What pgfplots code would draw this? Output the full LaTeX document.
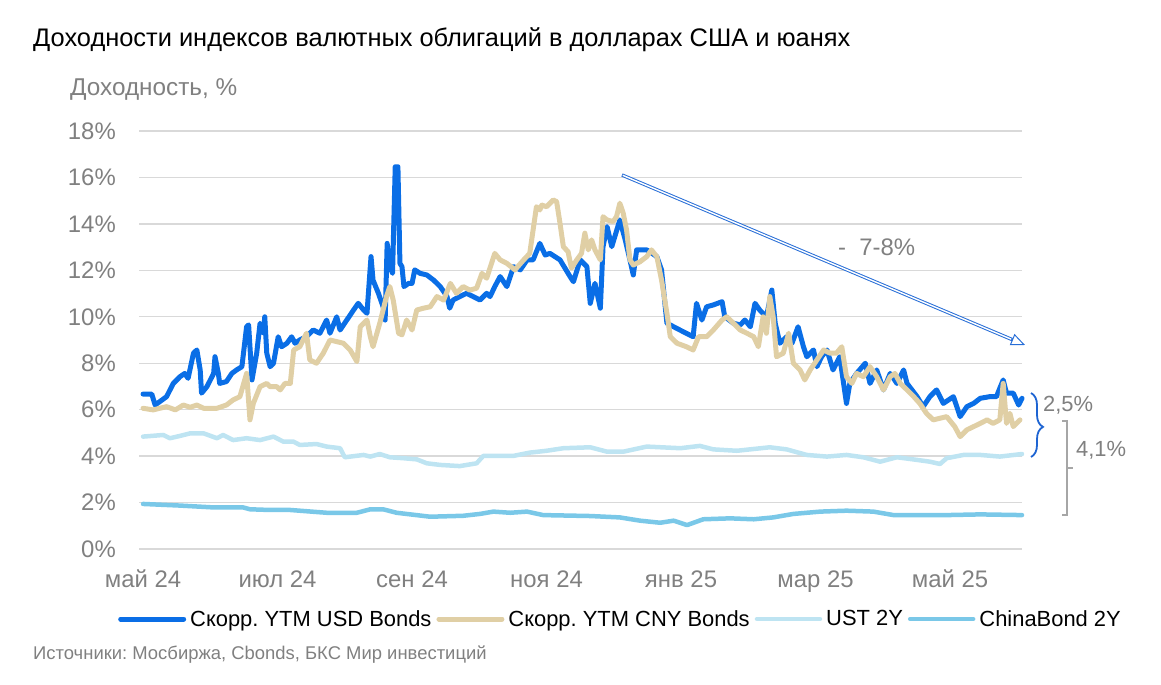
\documentclass[border=0pt]{standalone}
\usepackage{fontspec}
\setmainfont{Liberation Sans}
\usepackage{pgfplots}
\pgfplotsset{compat=1.18}
\usetikzlibrary{arrows.meta,decorations.pathreplacing}

\definecolor{usdblue}{RGB}{10,110,230}
\definecolor{cnytan}{RGB}{224,207,165}
\definecolor{ustblue}{RGB}{190,228,242}
\definecolor{chinablue}{RGB}{122,200,232}
\definecolor{gridgray}{RGB}{217,217,217}
\definecolor{labelgray}{RGB}{128,128,128}
\definecolor{arrowblue}{RGB}{40,110,215}
\definecolor{braceblue}{RGB}{30,100,210}
\definecolor{bracegray}{RGB}{166,166,166}

\newcommand{\fs}[1]{\fontsize{#1}{#1}\selectfont}
\frenchspacing

\begin{document}
\begin{tikzpicture}
\path[use as bounding box] (0,0) rectangle (1161bp,685bp);

\begin{axis}[
    scale only axis, width=883bp, height=418bp,
    at={(139bp,136bp)}, anchor=south west,
    xmin=-0.06, xmax=13.07, ymin=0, ymax=18,
    axis line style={draw=none}, tick style={draw=none},
    ytick={0,2,...,18},
    yticklabels={0\%,2\%,4\%,6\%,8\%,10\%,12\%,14\%,16\%,18\%},
    xtick={0,2,4,6,8,10,12},
    xticklabels={май 24,июл 24,сен 24,ноя 24,янв 25,мар 25,май 25},
    ymajorgrids, grid style={draw=gridgray, line width=1.3bp},
    yticklabel style={font=\fs{24}, text=labelgray, inner sep=0pt, anchor=east, xshift=-23bp},
    xticklabel style={font=\fs{24}, text=labelgray, inner sep=0pt, anchor=base, yshift=-39bp},
    clip=false,
    legend columns=4,
    legend style={at={(-0.0238,-0.1675)}, anchor=west, draw=none, fill=none,
        font=\fs{22}, inner sep=0pt, nodes={inner sep=0pt},
        /tikz/every odd column/.append style={column sep=4bp},
        /tikz/every even column/.append style={column sep=5bp}},
    legend image code/.code={\draw[#1] (0bp,0bp) -- (63bp,0bp);},
    every axis plot/.append style={line join=round, line cap=round},
]

% Скорр. YTM USD Bonds (x: месяцы от мая 2024)
\addplot[usdblue, line width=5bp] coordinates {
(0.00,6.67)(0.13,6.67)(0.18,6.20)(0.35,6.56)(0.45,7.13)(0.55,7.42)(0.62,7.56)(0.67,7.35)(0.75,8.43)(0.80,8.57)
(0.85,7.71)(0.87,6.71)(0.95,6.99)(1.05,7.56)(1.07,8.28)(1.12,7.56)(1.14,7.13)(1.24,7.21)(1.32,7.56)(1.39,7.71)
(1.47,7.85)(1.54,9.57)(1.57,9.65)(1.62,7.28)(1.69,8.43)(1.74,9.72)(1.79,9.29)(1.81,10.00)(1.84,8.43)(1.89,7.85)
(1.94,8.00)(2.01,9.14)(2.06,8.71)(2.14,8.86)(2.21,9.14)(2.26,8.86)(2.33,9.00)(2.43,9.14)(2.53,9.43)(2.63,9.29)
(2.73,9.86)(2.78,9.29)(2.88,10.00)(2.93,9.43)(3.03,9.86)(3.13,10.29)(3.20,10.58)(3.28,10.29)(3.33,10.15)(3.39,12.59)
(3.42,11.58)(3.50,11.01)(3.57,10.43)(3.60,9.86)(3.63,13.16)(3.67,12.16)(3.71,11.87)(3.75,16.46)(3.79,16.46)(3.82,12.30)
(3.85,12.16)(3.88,11.30)(3.95,11.44)(4.00,11.44)(4.04,12.02)(4.12,11.87)(4.22,11.80)(4.32,11.58)(4.42,11.30)(4.52,10.87)
(4.56,10.37)(4.61,10.72)(4.71,10.87)(4.81,11.01)(4.91,10.87)(5.01,10.72)(5.11,11.01)(5.16,10.87)(5.23,11.30)(5.31,11.73)
(5.41,11.30)(5.51,12.16)(5.61,12.02)(5.71,12.45)(5.80,12.45)(5.90,13.16)(5.98,12.66)(6.05,12.73)(6.20,12.45)(6.35,11.73)
(6.40,11.51)(6.50,12.45)(6.60,12.16)(6.65,10.58)(6.72,11.44)(6.80,10.37)(6.84,13.02)(6.90,13.88)(6.97,13.02)(7.09,14.17)
(7.17,13.31)(7.24,12.45)(7.29,11.80)(7.34,12.88)(7.49,12.88)(7.64,12.59)(7.71,12.02)(7.79,9.72)(7.89,9.57)(8.03,9.36)
(8.18,9.14)(8.23,10.58)(8.31,9.86)(8.38,10.43)(8.48,10.51)(8.61,10.65)(8.65,10.00)(8.78,9.72)(8.88,9.65)(8.95,9.86)
(9.03,9.57)(9.10,10.58)(9.17,10.29)(9.27,10.00)(9.35,11.15)(9.40,9.72)(9.47,8.86)(9.57,9.14)(9.65,8.86)(9.74,9.57)
(9.82,8.71)(9.87,8.28)(9.97,8.57)(10.02,7.85)(10.09,8.28)(10.17,8.57)(10.26,7.71)(10.36,8.28)(10.46,6.27)(10.51,7.13)
(10.61,7.56)(10.74,8.00)(10.81,7.13)(10.91,7.71)(11.01,6.85)(11.11,7.56)(11.21,7.13)(11.31,7.71)(11.36,7.13)(11.51,6.56)
(11.60,6.13)(11.70,6.56)(11.80,6.85)(11.90,6.27)(12.05,6.56)(12.15,5.70)(12.25,6.13)(12.35,6.27)(12.45,6.49)(12.59,6.56)
(12.69,6.56)(12.79,7.28)(12.84,6.71)(12.94,6.71)(13.02,6.20)(13.07,6.49)};
\addlegendentry{Скорр. YTM USD Bonds}

% Скорр. YTM CNY Bonds
\addplot[cnytan, line width=5bp] coordinates {
(0.00,6.06)(0.15,5.99)(0.35,6.13)(0.48,5.99)(0.60,6.20)(0.70,6.10)(0.80,6.20)(0.90,6.06)(1.10,6.06)(1.24,6.20)
(1.34,6.42)(1.44,6.56)(1.54,7.56)(1.59,5.56)(1.64,6.27)(1.74,6.99)(1.84,7.13)(1.89,6.99)(1.99,6.99)(2.04,6.85)
(2.11,7.13)(2.19,7.13)(2.24,8.57)(2.33,8.71)(2.38,9.00)(2.43,9.29)(2.48,8.14)(2.58,8.00)(2.68,8.43)(2.78,9.00)
(2.88,8.93)(2.98,8.86)(3.08,8.57)(3.18,8.07)(3.23,9.57)(3.33,9.86)(3.38,9.14)(3.42,8.71)(3.52,9.72)(3.62,10.87)
(3.67,11.30)(3.72,10.72)(3.80,9.29)(3.85,9.22)(3.92,9.86)(4.00,9.43)(4.07,10.29)(4.17,10.37)(4.27,10.43)(4.37,10.87)
(4.47,10.72)(4.57,11.44)(4.66,11.01)(4.76,11.30)(4.86,11.15)(4.96,11.23)(5.04,11.87)(5.11,11.66)(5.23,12.73)(5.31,12.45)
(5.41,12.30)(5.53,12.02)(5.66,12.45)(5.75,12.73)(5.85,14.74)(5.90,14.60)(5.93,14.81)(6.00,14.74)(6.10,15.03)(6.15,14.96)
(6.20,14.03)(6.25,13.02)(6.32,12.80)(6.37,12.09)(6.45,12.45)(6.52,12.73)(6.57,13.60)(6.62,12.88)(6.67,13.31)(6.72,12.88)
(6.80,12.45)(6.84,14.31)(6.90,14.17)(6.99,14.10)(7.04,14.31)(7.09,14.89)(7.14,14.46)(7.19,13.74)(7.24,12.45)(7.29,12.23)
(7.39,12.37)(7.49,12.59)(7.56,12.88)(7.64,12.59)(7.71,11.58)(7.79,10.15)(7.84,9.14)(7.94,8.86)(8.08,8.71)(8.18,8.57)
(8.26,9.14)(8.38,9.14)(8.48,9.43)(8.61,9.86)(8.68,10.00)(8.78,9.72)(8.88,9.43)(8.98,9.29)(9.08,9.14)(9.15,8.71)
(9.22,10.00)(9.27,9.29)(9.32,10.87)(9.37,10.00)(9.42,8.28)(9.52,8.43)(9.60,9.29)(9.67,8.00)(9.77,7.71)(9.84,7.28)
(9.92,7.71)(10.02,8.14)(10.12,8.57)(10.22,8.43)(10.31,8.43)(10.39,8.71)(10.46,7.42)(10.54,7.13)(10.61,7.56)(10.71,7.42)
(10.81,7.85)(10.91,7.42)(11.01,6.85)(11.11,7.42)(11.18,7.56)(11.26,7.13)(11.36,6.85)(11.46,6.56)(11.55,6.27)(11.65,5.84)
(11.75,5.56)(11.85,5.63)(11.95,5.70)(12.07,5.27)(12.15,4.84)(12.25,5.13)(12.35,5.27)(12.45,5.41)(12.55,5.56)(12.64,5.41)
(12.74,5.56)(12.79,7.13)(12.84,5.41)(12.89,5.84)(12.94,5.27)(13.04,5.56)};
\addlegendentry{Скорр. YTM CNY Bonds}

% UST 2Y
\addplot[ustblue, line width=4.5bp] coordinates {
(0.00,4.84)(0.30,4.91)(0.40,4.77)(0.55,4.87)(0.70,4.98)(0.90,4.98)(1.10,4.77)(1.19,4.91)(1.34,4.69)(1.54,4.77)
(1.74,4.69)(1.94,4.84)(2.09,4.62)(2.24,4.62)(2.33,4.48)(2.58,4.52)(2.73,4.41)(2.93,4.34)(3.00,3.95)(3.28,4.05)
(3.38,3.98)(3.52,4.09)(3.67,3.95)(3.87,3.91)(4.07,3.86)(4.22,3.69)(4.42,3.62)(4.71,3.57)(4.96,3.69)(5.06,4.01)
(5.26,4.01)(5.51,4.01)(5.75,4.15)(6.00,4.23)(6.25,4.34)(6.65,4.38)(6.90,4.19)(7.14,4.19)(7.49,4.41)(7.99,4.34)
(8.28,4.44)(8.48,4.29)(8.83,4.23)(9.32,4.38)(9.57,4.29)(9.87,4.05)(10.17,3.98)(10.46,4.05)(10.71,3.95)(10.96,3.76)
(11.21,3.95)(11.45,3.86)(11.70,3.76)(11.85,3.66)(11.95,3.91)(12.20,4.05)(12.45,4.05)(12.74,3.98)(13.07,4.09)};
\addlegendentry{UST 2Y}

% ChinaBond 2Y
\addplot[chinablue, line width=4.5bp] coordinates {
(0.00,1.94)(0.55,1.87)(1.05,1.79)(1.49,1.79)(1.59,1.71)(1.89,1.68)(2.19,1.68)(2.73,1.56)(3.18,1.56)(3.38,1.71)
(3.57,1.71)(3.77,1.56)(4.27,1.39)(4.76,1.43)(5.01,1.51)(5.21,1.61)(5.46,1.56)(5.71,1.61)(5.95,1.46)(6.65,1.42)
(7.09,1.36)(7.39,1.22)(7.69,1.13)(7.89,1.22)(8.09,1.03)(8.33,1.28)(8.73,1.32)(9.08,1.28)(9.37,1.36)(9.67,1.51)
(10.07,1.61)(10.46,1.65)(10.86,1.61)(11.16,1.46)(11.45,1.46)(11.95,1.46)(12.45,1.49)(13.07,1.46)};
\addlegendentry{ChinaBond 2Y}
\end{axis}

% titles and notes
\node[anchor=base west, inner sep=0pt, font=\fs{25.5}] at (33bp,638bp)
    {Доходности индексов валютных облигаций в долларах США и юанях};
\node[anchor=base west, inner sep=0pt, font=\fs{24.4}, text=labelgray] at (70bp,589bp)
    {Доходность, \%};
\node[anchor=base west, inner sep=0pt, font=\fs{18.5}, text=labelgray] at (33bp,26bp)
    {Источники: Мосбиржа, Cbonds, БКС Мир инвестиций};

% trend arrow
\draw[arrowblue, line width=3.4bp, -{Triangle[open, length=14bp, width=12bp, line width=1bp]}]
    (622bp,510bp) -- (1025bp,340bp);
\draw[white, line width=1.4bp, shorten <=0.8bp, shorten >=15bp] (622bp,510bp) -- (1025bp,340bp);
\node[anchor=west, inner sep=0pt, font=\fs{24}, text=labelgray] at (838bp,438bp) {-\ \ 7-8\%};

% spreads
\draw[braceblue, line width=1.8bp, decorate, decoration={brace, amplitude=12bp, aspect=0.53}]
    (1031bp,292bp) -- (1031bp,228bp);
\node[anchor=west, inner sep=0pt, font=\fs{22}, text=labelgray] at (1043bp,280bp) {2,5\%};
\draw[bracegray, line width=1.6bp] (1062bp,264bp) -- (1067bp,264bp) -- (1067bp,170bp) -- (1062bp,170bp)
    (1067bp,217bp) -- (1073bp,217bp);
\node[anchor=west, inner sep=0pt, font=\fs{22}, text=labelgray] at (1076bp,235bp) {4,1\%};
\end{tikzpicture}
\end{document}
